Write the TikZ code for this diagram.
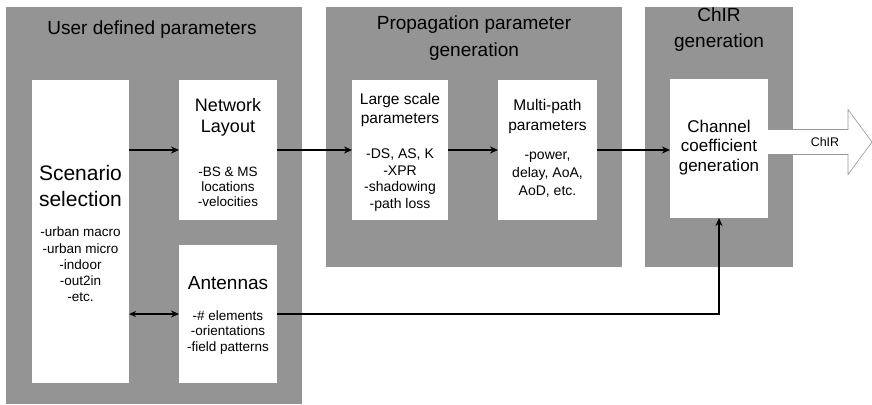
\documentclass[tikz,border=0pt]{standalone}
\usepackage{fontspec}
\setmainfont{Liberation Sans}
\usetikzlibrary{arrows.meta,calc}
\definecolor{panelgray}{RGB}{148,148,148}
\definecolor{arrowgray}{RGB}{150,150,150}
\begin{document}
\begin{tikzpicture}[x=1pt,y=-1pt,
  panel/.style={fill=panelgray,draw=none,inner sep=0pt,outer sep=0pt},
  wbox/.style={fill=white,draw=none,inner sep=0pt,outer sep=0pt},
  ttl/.style={align=center,inner sep=0pt,font=\fontsize{19}{27}\selectfont},
  head/.style={align=center,inner sep=0pt},
  lst/.style={align=center,inner sep=0pt},
  conn/.style={line width=1.6pt,-{Stealth[length=8pt,width=7pt]}},
  plain/.style={line width=1.6pt}
]
\useasboundingbox (0,0) rectangle (872,404);
% panels
\node[panel,minimum width=296pt,minimum height=397pt,anchor=north west] (p1) at (6,7) {};
\node[panel,minimum width=296pt,minimum height=260pt,anchor=north west] (p2) at (326,7) {};
\node[panel,minimum width=148pt,minimum height=260pt,anchor=north west] (p3) at (645,7) {};
% titles
\node[ttl] (t1) at (152,30) {User defined parameters};
\node[ttl] (t2) at (474,38.5) {Propagation parameter\\generation};
\node[ttl,font=\fontsize{19}{26}\selectfont] (t3) at (719,30) {ChIR\\generation};
% white boxes
\node[wbox,minimum width=97pt,minimum height=303pt,anchor=north west] (scen) at (32,80) {};
\node[wbox,minimum width=98pt,minimum height=140pt,anchor=north west] (net) at (179,80) {};
\node[wbox,minimum width=98pt,minimum height=138pt,anchor=north west] (ant) at (179,245) {};
\node[wbox,minimum width=96pt,minimum height=140pt,anchor=north west] (large) at (352,80) {};
\node[wbox,minimum width=99pt,minimum height=140pt,anchor=north west] (multi) at (498,80) {};
\node[wbox,minimum width=98pt,minimum height=139pt,anchor=north west] (chan) at (670,79) {};
% box texts
\node[head,font=\fontsize{21}{26}\selectfont] (scenh) at (80.5,185.5) {Scenario\\selection};
\node[lst,font=\fontsize{13.5}{16.3}\selectfont] (scenl) at (80.5,264.5) {-urban macro\\-urban micro\\-indoor\\-out2in\\-etc.};
\node[head,font=\fontsize{18}{21}\selectfont] (neth) at (228,117.5) {Network\\Layout};
\node[lst,font=\fontsize{13.5}{15}\selectfont] (netl) at (228,187) {-BS \& MS\\locations\\-velocities};
\node[head,font=\fontsize{19}{21}\selectfont] (anth) at (228,283) {Antennas};
\node[lst,font=\fontsize{13.5}{15.5}\selectfont] (antl) at (228,332.5) {-\# elements\\-orientations\\-field patterns};
\node[head,font=\fontsize{15.5}{19}\selectfont] (largeh) at (400,109.5) {Large scale\\parameters};
\node[lst,font=\fontsize{14}{16.7}\selectfont] (largel) at (400,180) {-DS, AS, K\\-XPR\\-shadowing\\-path loss};
\node[head,font=\fontsize{15.5}{20}\selectfont] (multih) at (547.5,116) {Multi-path\\parameters};
\node[lst,font=\fontsize{14}{18}\selectfont] (multil) at (547.5,175) {-power,\\delay, AoA,\\AoD, etc.};
\node[head,font=\fontsize{17}{19.5}\selectfont] (chanh) at (719,147.5) {Channel\\coefficient\\generation};
% connectors
\draw[conn] (scen.east |- net.west) -- (net.west);
\draw[conn] (net.east) -- (large.west);
\draw[conn] (large.east) -- (multi.west);
\draw[conn] (multi.east) -- (chan.west |- multi.east);
\draw[line width=1.6pt,{Stealth[length=7pt,width=6pt]}-{Stealth[length=8pt,width=7pt]}] (scen.east |- ant.west) -- (ant.west);
\draw[conn] (ant.east) -| (chan.south);
% output arrow
\coordinate (at) at ($(chan.east)+(0,-6.5)$);
\draw[draw=arrowgray,fill=white,line width=0.6pt]
  ($(at)+(0,-12.5)$) -- ($(at)+(80,-12.5)$) -- ($(at)+(80,-32.5)$) -- ($(at)+(104,0)$)
  -- ($(at)+(80,32.5)$) -- ($(at)+(80,12.5)$) -- ($(at)+(0,12.5)$);
\node[inner sep=0pt,font=\fontsize{12.5}{14}\selectfont] (chirl) at ($(at)+(57,0)$) {ChIR};
\end{tikzpicture}
\end{document}
